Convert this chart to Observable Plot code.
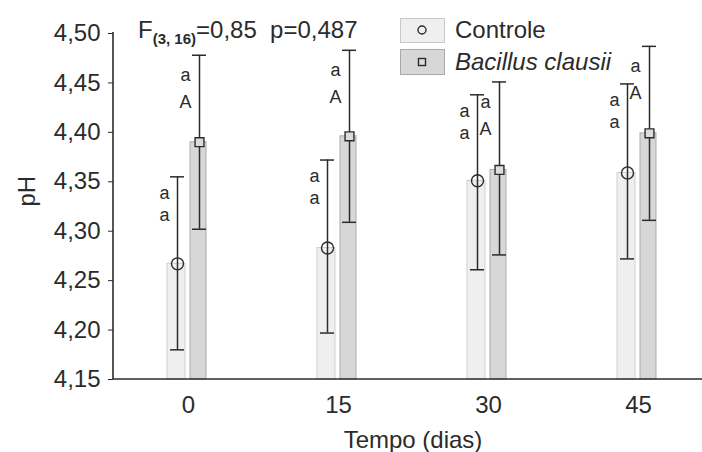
<!DOCTYPE html>
<html><head><meta charset="utf-8">
<script src="https://cdn.jsdelivr.net/npm/d3@7"></script>
<script src="https://cdn.jsdelivr.net/npm/@observablehq/plot@0.6"></script>
<style>
body{margin:0;background:#fff;}
#wrap{position:relative;width:702px;height:452px;overflow:hidden;font-family:"Liberation Sans",Arial,sans-serif;color:#2b2b2b;}
.ov{position:absolute;white-space:nowrap;font-size:24px;line-height:24px;}
.box{position:absolute;box-sizing:border-box;}
</style></head><body><div id="wrap"></div>
<script>
// ---- data ----
const tempos = ["0", "15", "30", "45"];
const controleMean = [4.267, 4.283, 4.351, 4.359];
const controleLow  = [4.180, 4.197, 4.261, 4.272];
const controleHigh = [4.355, 4.372, 4.438, 4.449];
const bacillusMean = [4.390, 4.396, 4.362, 4.399];
const bacillusLow  = [4.302, 4.309, 4.276, 4.311];
const bacillusHigh = [4.478, 4.483, 4.451, 4.487];
const controleLetterTop = ["a", "a", "a", "a"];
const controleLetterBottom = ["a", "a", "a", "a"];
const bacillusLetterTop = ["a", "a", "a", "a"];
const bacillusLetterBottom = ["A", "A", "A", "A"];
const yTicks = [4.15, 4.20, 4.25, 4.30, 4.35, 4.40, 4.45, 4.50];
const yBase = 4.15, yTop = 4.50;
const seriesNames = ["Controle", "Bacillus clausii"];
const statText = {F: "F", sub: "(3, 16)", rest: "=0,85\u00a0 p=0,487"};

const ctrl = tempos.map((t, i) => ({t, mean: controleMean[i], low: controleLow[i], high: controleHigh[i], l1: controleLetterTop[i], l2: controleLetterBottom[i]}));
const bac = tempos.map((t, i) => ({t, mean: bacillusMean[i], low: bacillusLow[i], high: bacillusHigh[i], l1: bacillusLetterTop[i], l2: bacillusLetterBottom[i]}));

const ink = "#2b2b2b";
const font = "Liberation Sans, Arial, sans-serif";

const axisLines = (index, scales, values, dim) => {
  const g = d3.create("svg:g").attr("stroke", ink).attr("stroke-width", 1.6);
  g.append("line").attr("x1", dim.marginLeft).attr("x2", dim.marginLeft)
    .attr("y1", dim.marginTop - 1).attr("y2", dim.height - dim.marginBottom);
  g.append("line").attr("x1", dim.marginLeft).attr("x2", dim.width)
    .attr("y1", dim.height - dim.marginBottom).attr("y2", dim.height - dim.marginBottom);
  return g.node();
};

const plot = Plot.plot({
  width: 702, height: 452,
  marginLeft: 113, marginRight: 0, marginTop: 33, marginBottom: 73,
  style: {fontFamily: font, color: ink, background: "transparent"},
  x: {type: "band", domain: tempos, range: [113, 713], padding: 0},
  y: {domain: [yBase, yTop]},
  marks: [
    Plot.barY(ctrl, {x: "t", y1: () => yBase, y2: "mean", fill: "#efefef", stroke: "#cfcfcf", strokeWidth: 1, insetLeft: 54, insetRight: 78}),
    Plot.barY(bac, {x: "t", y1: () => yBase, y2: "mean", fill: "#d7d7d7", stroke: "#ababab", strokeWidth: 1, insetLeft: 77, insetRight: 57}),
    Plot.ruleX(ctrl, {x: "t", y1: "low", y2: "high", dx: -11, stroke: ink, strokeWidth: 1.5}),
    Plot.ruleX(bac, {x: "t", y1: "low", y2: "high", dx: 11, stroke: ink, strokeWidth: 1.5}),
    Plot.tickY(ctrl, {x: "t", y: "high", insetLeft: 57, insetRight: 79, stroke: ink, strokeWidth: 1.5}),
    Plot.tickY(ctrl, {x: "t", y: "low", insetLeft: 57, insetRight: 79, stroke: ink, strokeWidth: 1.5}),
    Plot.tickY(bac, {x: "t", y: "high", insetLeft: 79, insetRight: 57, stroke: ink, strokeWidth: 1.5}),
    Plot.tickY(bac, {x: "t", y: "low", insetLeft: 79, insetRight: 57, stroke: ink, strokeWidth: 1.5}),
    Plot.dot(ctrl, {x: "t", y: "mean", dx: -11, r: 6, stroke: ink, strokeWidth: 1.4, fill: "none"}),
    Plot.dot(bac, {x: "t", y: "mean", dx: 11, r: 5, symbol: "square", stroke: ink, strokeWidth: 1.4, fill: "#dcdcdc"}),
    Plot.text(ctrl, {x: "t", y: "high", text: "l1", dx: -24, dy: 16, fontSize: 18, fill: ink}),
    Plot.text(ctrl, {x: "t", y: "high", text: "l2", dx: -24, dy: 38, fontSize: 18, fill: ink}),
    Plot.text(bac, {x: "t", y: "high", text: "l1", dx: -3, dy: 20, fontSize: 18, fill: ink}),
    Plot.text(bac, {x: "t", y: "high", text: "l2", dx: -3, dy: 47, fontSize: 18, fill: ink}),
    Plot.axisY({ticks: yTicks, tickFormat: d => d.toFixed(2).replace(".", ","), tickSize: 5, tickPadding: 8, fontSize: 24, label: null, stroke: ink, fill: ink}),
    Plot.axisX({tickSize: 0, tickPadding: 16, fontSize: 24, label: null, fill: ink}),
    axisLines,
    Plot.text(["Tempo (dias)"], {text: d => d, frameAnchor: "bottom", dx: 5, dy: 68, fontSize: 24, fill: ink}),
    Plot.text(["pH"], {text: d => d, frameAnchor: "left", dx: -86, rotate: -90, fontSize: 24, fill: ink})
  ]
});

const wrap = document.getElementById("wrap");
wrap.appendChild(plot);

// statistics annotation
const st = document.createElement("div");
st.className = "ov";
st.style.left = "138px"; st.style.top = "18px";
st.innerHTML = `${statText.F}<span style="font-size:15px;font-weight:bold;position:relative;top:6px;">${statText.sub}</span>${statText.rest}`;
wrap.appendChild(st);

// legend
const legendStyles = [
  {fill: "#efefef", stroke: "#c8c8c8", top: 18, h: 25, sym: `<circle cx="6" cy="6" r="4" fill="none" stroke="${ink}" stroke-width="1.4"/>`, italic: false},
  {fill: "#d7d7d7", stroke: "#a9a9a9", top: 49, h: 26, sym: `<rect x="2.5" y="2.5" width="7" height="7" fill="#dcdcdc" stroke="${ink}" stroke-width="1.4"/>`, italic: true}
];
seriesNames.forEach((name, i) => {
  const s = legendStyles[i];
  const b = document.createElement("div");
  b.className = "box";
  Object.assign(b.style, {left: "400px", top: s.top + "px", width: "45px", height: s.h + "px", background: s.fill, border: `1.5px solid ${s.stroke}`});
  b.innerHTML = `<svg width="12" height="12" style="position:absolute;left:15px;top:${(s.h - 3 - 12) / 2}px">${s.sym}</svg>`;
  wrap.appendChild(b);
  const t = document.createElement("div");
  t.className = "ov";
  t.style.left = "455px"; t.style.top = (s.top + (i ? 1 : 0)) + "px";
  if (s.italic) t.style.fontStyle = "italic";
  t.textContent = name;
  wrap.appendChild(t);
});
</script></body></html>
